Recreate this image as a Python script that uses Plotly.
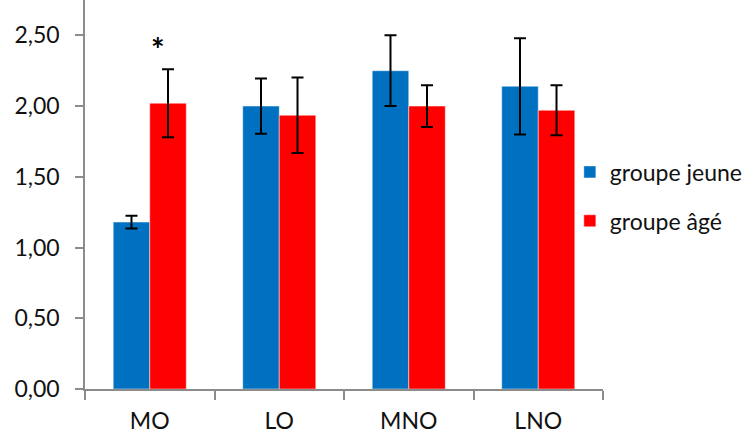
import plotly.graph_objects as go

categories = ["MO", "LO", "MNO", "LNO"]
jeune_values = [1.18, 2.00, 2.25, 2.14]
jeune_errors = [0.045, 0.195, 0.25, 0.34]
age_values = [2.02, 1.935, 2.00, 1.97]
age_errors = [0.24, 0.267, 0.148, 0.177]
y_tick_values = [0, 0.5, 1.0, 1.5, 2.0, 2.5]
y_tick_labels = ["0,00", "0,50", "1,00", "1,50", "2,00", "2,50"]

FONT = "Lato"
AXIS_COLOR = "#8c8c8c"
TEXT_COLOR = "#111111"

fig = go.Figure()
fig.add_trace(go.Bar(
    x=categories, y=jeune_values, name="groupe jeune",
    marker=dict(color="#0070C0", line=dict(color="rgba(255,255,255,0.45)", width=1)),
    error_y=dict(type="data", array=jeune_errors, color="black", thickness=2, width=6),
    legendgroup="a",
))
fig.add_trace(go.Bar(
    x=categories, y=age_values, name="groupe âgé",
    marker=dict(color="#FF0000", line=dict(color="rgba(255,255,255,0.45)", width=1)),
    error_y=dict(type="data", array=age_errors, color="black", thickness=2, width=6),
    legendgroup="b",
))

fig.add_annotation(x="MO", y=2.40, text="<b>*</b>", showarrow=False, xshift=8,
                   font=dict(family=FONT, size=32, color="black"))

fig.update_layout(
    width=754, height=437,
    margin=dict(l=85, r=151, t=0, b=48),
    paper_bgcolor="white", plot_bgcolor="white",
    barmode="group", bargap=0.436, bargroupgap=0,
    font=dict(family=FONT, size=23, color=TEXT_COLOR),
    showlegend=True,
    legend=dict(x=0.936, xanchor="left", y=0.495, yanchor="middle",
                traceorder="grouped", tracegroupgap=16,
                font=dict(family=FONT, size=23, color=TEXT_COLOR),
                bgcolor="rgba(0,0,0,0)"),
    xaxis=dict(showline=True, linecolor=AXIS_COLOR, linewidth=1.5,
               ticks="outside", tickson="boundaries", ticklen=9, tickcolor=AXIS_COLOR,
               tickwidth=1.5, showgrid=False, ticklabelstandoff=11),
    yaxis=dict(range=[0, 2.75], showline=True, linecolor=AXIS_COLOR, linewidth=1.5,
               tickvals=y_tick_values, ticktext=y_tick_labels,
               ticks="outside", ticklen=8, tickcolor=AXIS_COLOR, tickwidth=1.5,
               showgrid=False, zeroline=False, ticklabelstandoff=11),
)

fig.write_html("out.html", config={"displayModeBar": False},
               post_script="document.body.style.margin='0';document.body.style.padding='0';")
